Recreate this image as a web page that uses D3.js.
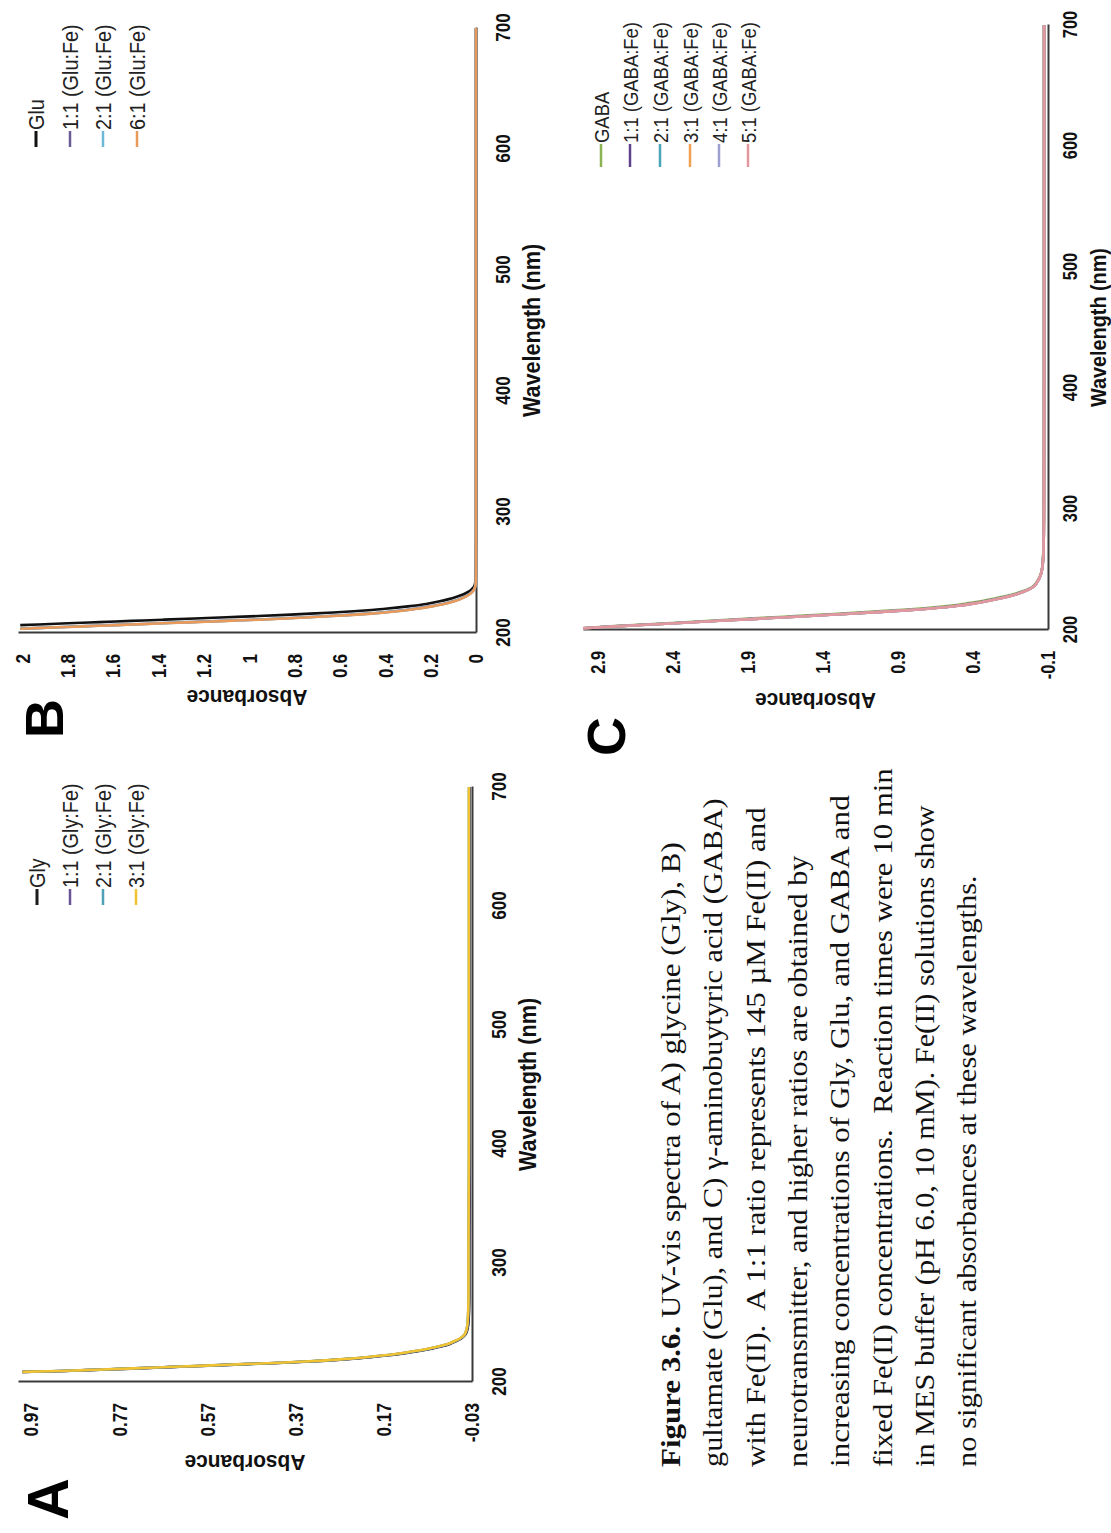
<!DOCTYPE html>
<html><head><meta charset="utf-8">
<script src="https://cdn.jsdelivr.net/npm/d3@7"></script>
<style>body{margin:0;background:#fff}text{white-space:pre}</style>
</head><body><svg id="c" width="1111" height="1533"></svg>
<script>
// ---------- DATA ----------
const wlTicks = [200, 300, 400, 500, 600, 700];

// Panel A (Gly)
const wlA = [208.5,209,210,211,212,213,214,215,216,217,218,219,220,222,224,226,228,230,232,234,236,238,240,245,250,270,300,400,500,600,700];
const absGly   = [0.99,0.92,0.84,0.76,0.69,0.62,0.55,0.48,0.41,0.35,0.30,0.26,0.225,0.17,0.125,0.09,0.062,0.038,0.02,0.008,-0.003,-0.01,-0.015,-0.02,-0.022,-0.024,-0.024,-0.025,-0.025,-0.025,-0.025];
const absGly11 = [0.99,0.925,0.845,0.765,0.695,0.625,0.555,0.485,0.415,0.355,0.305,0.265,0.23,0.175,0.13,0.095,0.066,0.042,0.023,0.01,-0.002,-0.009,-0.014,-0.019,-0.021,-0.023,-0.023,-0.024,-0.024,-0.024,-0.024];
const absGly21 = [0.99,0.928,0.848,0.768,0.698,0.628,0.558,0.488,0.418,0.358,0.308,0.268,0.233,0.178,0.133,0.098,0.068,0.044,0.024,0.011,-0.001,-0.008,-0.013,-0.018,-0.02,-0.022,-0.022,-0.023,-0.023,-0.023,-0.023];
const absGly31 = [0.99,0.93,0.85,0.77,0.70,0.63,0.56,0.49,0.42,0.36,0.31,0.27,0.235,0.18,0.135,0.10,0.07,0.045,0.025,0.012,0.0,-0.008,-0.013,-0.018,-0.02,-0.022,-0.022,-0.023,-0.023,-0.023,-0.023];
const yTicksA = [-0.03, 0.17, 0.37, 0.57, 0.77, 0.97];
const legendA = ["Gly", "1:1 (Gly:Fe)", "2:1 (Gly:Fe)", "3:1 (Gly:Fe)"];
const colorsA = ["#1b1b1b", "#6a5396", "#4e9fb8", "#f1c232"];

// Panel B (Glu)
const wlB = [203.5,204,205,206,206.5,207,208,209,210,211,212,213,214,215,216,217,218,219,220,222,224,226,228,230,232,234,236,238,240,245,250,300,400,500,600,700];
const absGlu   = [null,null,null,null,2.01,1.93,1.80,1.66,1.52,1.38,1.24,1.10,0.96,0.84,0.73,0.63,0.54,0.46,0.40,0.30,0.22,0.165,0.12,0.085,0.055,0.035,0.02,0.01,0.005,0.002,0.001,0,0,0,0,0];
const absGlu11 = [2.01,1.95,1.82,1.68,1.61,1.54,1.40,1.26,1.12,0.98,0.86,0.75,0.65,0.56,0.48,0.415,0.36,0.31,0.27,0.203,0.146,0.105,0.072,0.048,0.03,0.018,0.009,0.004,0.002,0.001,0,0,0,0,0,0];
const absGlu21 = [2.01,1.945,1.81,1.67,1.60,1.53,1.39,1.25,1.11,0.97,0.85,0.74,0.64,0.55,0.47,0.41,0.35,0.305,0.265,0.2,0.143,0.102,0.07,0.046,0.029,0.017,0.0085,0.004,0.002,0.001,0,0,0,0,0,0];
const absGlu61 = [2.01,1.94,1.80,1.66,1.59,1.52,1.38,1.24,1.10,0.96,0.84,0.73,0.63,0.54,0.46,0.40,0.345,0.30,0.26,0.195,0.14,0.10,0.068,0.045,0.028,0.016,0.008,0.004,0.002,0.001,0,0,0,0,0,0];
const yTicksB = [0, 0.2, 0.4, 0.6, 0.8, 1, 1.2, 1.4, 1.6, 1.8, 2];
const legendB = ["Glu", "1:1 (Glu:Fe)", "2:1 (Glu:Fe)", "6:1 (Glu:Fe)"];
const colorsB = ["#111111", "#6b5b95", "#6cb8d6", "#e99a5a"];

// Panel C (GABA)
const wlC = [201.5,203,205,207,209,211,213,215,216,217,218,219,220,222,224,226,228,230,232,234,236,238,240,245,250,260,280,300,400,500,600,700];
const absGaba   = [3.0,2.82,2.53,2.24,1.95,1.66,1.37,1.09,0.96,0.84,0.73,0.64,0.56,0.44,0.34,0.255,0.18,0.12,0.07,0.03,0.002,-0.015,-0.027,-0.048,-0.059,-0.067,-0.071,-0.072,-0.073,-0.073,-0.073,-0.073];
const absGaba11 = [3.0,2.79,2.49,2.19,1.89,1.59,1.30,1.02,0.89,0.77,0.67,0.58,0.51,0.40,0.31,0.23,0.16,0.105,0.058,0.022,-0.004,-0.02,-0.03,-0.05,-0.06,-0.068,-0.072,-0.073,-0.074,-0.074,-0.074,-0.074];
const absGaba21 = [3.0,2.785,2.485,2.185,1.885,1.585,1.295,1.015,0.885,0.765,0.665,0.575,0.505,0.395,0.305,0.225,0.158,0.102,0.056,0.021,-0.004,-0.02,-0.03,-0.05,-0.06,-0.068,-0.072,-0.073,-0.074,-0.074,-0.074,-0.074];
const absGaba31 = [3.0,2.78,2.48,2.18,1.88,1.58,1.29,1.01,0.88,0.76,0.66,0.57,0.50,0.39,0.30,0.22,0.155,0.10,0.055,0.02,-0.005,-0.02,-0.03,-0.05,-0.06,-0.068,-0.072,-0.073,-0.074,-0.074,-0.074,-0.074];
const absGaba41 = [3.0,2.78,2.48,2.18,1.88,1.58,1.29,1.01,0.88,0.76,0.66,0.57,0.50,0.39,0.30,0.22,0.155,0.10,0.055,0.02,-0.005,-0.02,-0.03,-0.05,-0.06,-0.068,-0.072,-0.073,-0.074,-0.074,-0.074,-0.074];
const absGaba51 = [3.0,2.78,2.48,2.18,1.88,1.58,1.29,1.01,0.88,0.76,0.66,0.57,0.50,0.39,0.30,0.22,0.155,0.10,0.055,0.02,-0.005,-0.02,-0.03,-0.05,-0.06,-0.068,-0.072,-0.073,-0.074,-0.074,-0.074,-0.074];
const yTicksC = [-0.1, 0.4, 0.9, 1.4, 1.9, 2.4, 2.9];
const legendC = ["GABA", "1:1 (GABA:Fe)", "2:1 (GABA:Fe)", "3:1 (GABA:Fe)", "4:1 (GABA:Fe)", "5:1 (GABA:Fe)"];
const colorsC = ["#8bb352", "#5e428c", "#47a7b6", "#f0a14f", "#9d9fd2", "#e3979f"];

// Caption
const captionBold = "Figure 3.6.";
const captionLines = [
  " UV-vis spectra of A) glycine (Gly), B)",
  "gultamate (Glu), and C) \u03b3-aminobuytyric acid (GABA)",
  "with Fe(II).  A 1:1 ratio represents 145 \u00b5M Fe(II) and",
  "neurotransmitter, and higher ratios are obtained by",
  "increasing concentrations of Gly, Glu, and GABA and",
  "fixed Fe(II) concentrations.  Reaction times were 10 min",
  "in MES buffer (pH 6.0, 10 mM). Fe(II) solutions show",
  "no significant absorbances at these wavelengths."
];

// ---------- LAYOUT (landscape page, rotated onto the portrait canvas) ----------
const svg = d3.select("#c");
const page = svg.append("g").attr("transform", "translate(0,1533) rotate(-90)");
const SANS = "Liberation Sans, Arial, sans-serif";

// narrow a text element horizontally (the reference's chart lettering is condensed)
function condense(sel, k) {
  sel.each(function () {
    const L = this.getComputedTextLength();
    d3.select(this).attr("textLength", L * k).attr("lengthAdjust", "spacingAndGlyphs");
  });
}

const panels = [
  {letter: "A", letterPos: [13, 68], letterFs: 58, wl: wlA, series: [absGly, absGly11, absGly21, absGly31],
   legend: legendA, colors: colorsA, yTicks: yTicksA, fmt: d => d.toFixed(2),
   xr: [151, 746], yr: [472, 18], yd: [-0.03, 1.0], titleU: 78, wlTitle: 64, tickPad: 19, tickFs: 21, titleFs: 24,
   leg: {u0: 628, len: 16, rows: [37, 70, 103, 136], fs: 22}},
  {letter: "B", letterPos: [795, 63], letterFs: 54, wl: wlB, series: [absGlu, absGlu11, absGlu21, absGlu61],
   legend: legendB, colors: colorsB, yTicks: yTicksB, fmt: d => String(+d.toFixed(1)),
   xr: [900, 1505], yr: [476, 18], yd: [0, 2.02], titleU: 843, wlTitle: 64, tickPad: 19, tickFs: 21, titleFs: 24,
   leg: {u0: 1386, len: 16, rows: [36, 70, 103, 137], fs: 22}},
  {letter: "C", letterPos: [777, 625], letterFs: 54, wl: wlC, series: [absGaba, absGaba11, absGaba21, absGaba31, absGaba41, absGaba51],
   legend: legendC, colors: colorsC, yTicks: yTicksC, fmt: d => d.toFixed(1),
   xr: [903, 1508], yr: [1048, 583], yd: [-0.1, 3.0], titleU: 840, wlTitle: 58, tickPad: 15, tickFs: 20, titleFs: 22,
   leg: {u0: 1366, len: 23, rows: [601, 630, 660, 690, 719, 748], fs: 20.5}}
];

panels.forEach(p => {
  const g = page.append("g");
  const x = d3.scaleLinear().domain([200, 700]).range(p.xr);
  const y = d3.scaleLinear().domain(p.yd).range(p.yr);

  // axes
  const xa = g.append("g").attr("transform", `translate(0,${p.yr[0]})`)
    .call(d3.axisBottom(x).tickValues(wlTicks).tickSize(0).tickPadding(p.tickPad).tickSizeOuter(0));
  const ya = g.append("g").attr("transform", `translate(${p.xr[0]},0)`)
    .call(d3.axisLeft(y).tickValues(p.yTicks).tickFormat(p.fmt).tickSize(0).tickPadding(21).tickSizeOuter(0));
  [xa, ya].forEach(a => {
    a.select(".domain").attr("stroke", "#3a3a3a").attr("stroke-width", 2);
    a.selectAll("text").attr("font-family", SANS).attr("font-weight", "bold")
      .attr("font-size", p.tickFs).attr("fill", "#111").call(condense, 0.82);
  });

  // axis titles
  g.append("text").attr("x", (p.xr[0] + p.xr[1]) / 2).attr("y", p.yr[0] + p.wlTitle)
    .attr("text-anchor", "middle").attr("font-family", SANS).attr("font-weight", "bold")
    .attr("font-size", p.titleFs).attr("fill", "#111").text("Wavelength (nm)").call(condense, 0.9);
  g.append("text").attr("transform", `translate(${p.titleU},${(p.yr[0] + p.yr[1]) / 2}) rotate(-90)`)
    .attr("text-anchor", "middle").attr("font-family", SANS).attr("font-weight", "bold")
    .attr("font-size", 22).attr("fill", "#111").text("Absorbance").call(condense, 0.95);

  // panel letter
  g.append("text").attr("x", p.letterPos[0]).attr("y", p.letterPos[1])
    .attr("font-family", SANS).attr("font-weight", "bold").attr("font-size", p.letterFs)
    .attr("fill", "#000").text(p.letter);

  // curves
  const line = d3.line().defined(d => d[1] != null)
    .x(d => x(d[0])).y(d => y(d[1])).curve(d3.curveMonotoneX);
  p.series.forEach((s, i) => {
    g.append("path").datum(p.wl.map((w, j) => [w, s[j]]))
      .attr("d", line).attr("fill", "none").attr("stroke", p.colors[i])
      .attr("stroke-width", 2.6).attr("stroke-linejoin", "round");
  });

  // legend
  p.legend.forEach((name, i) => {
    const v = p.leg.rows[i];
    g.append("line").attr("x1", p.leg.u0).attr("x2", p.leg.u0 + p.leg.len)
      .attr("y1", v).attr("y2", v).attr("stroke", p.colors[i])
      .attr("stroke-width", p.colors[i] === "#1b1b1b" || p.colors[i] === "#111111" ? 3 : 2.5);
    g.append("text").attr("x", p.leg.u0 + p.leg.len + 1).attr("y", v + 7.5)
      .attr("font-family", SANS).attr("font-size", p.leg.fs).attr("fill", "#222").text(name)
      .call(condense, 0.9);
  });
});

// caption
const capEnds = [691, 735, 726, 678, 738, 765, 728, 658];
const capStart = 66;
captionLines.forEach((t, i) => {
  const base = 680 + 42.3 * i;
  const txt = page.append("text").attr("font-family", "Liberation Serif, Times New Roman, serif")
    .attr("font-size", 27.5).attr("fill", "#111");
  if (i === 0) {
    txt.append("tspan").attr("font-weight", "bold").text(captionBold);
  }
  txt.append("tspan").text(t);
  const L = txt.node().getComputedTextLength();
  const k = (capEnds[i] - capStart) / L;
  txt.attr("transform", `translate(${capStart},${base}) scale(${k},1)`);
});
</script></body></html>
